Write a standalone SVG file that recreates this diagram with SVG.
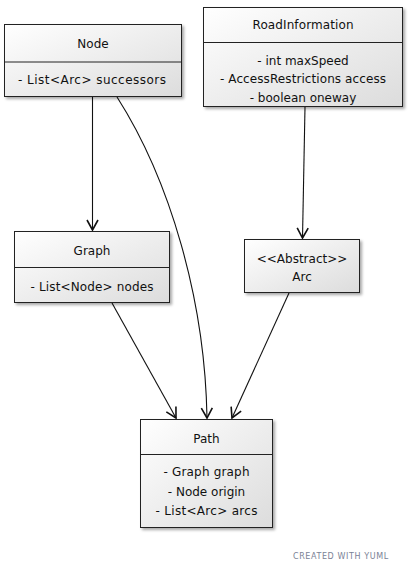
<svg xmlns="http://www.w3.org/2000/svg" width="414" height="573" viewBox="0 0 414 573">
<defs>
<linearGradient id="g" x1="0" y1="0" x2="1" y2="1">
<stop offset="0" stop-color="#ffffff"/>
<stop offset="1" stop-color="#dcdcdc"/>
</linearGradient>
<filter id="sh" x="-10%" y="-10%" width="130%" height="130%">
<feGaussianBlur in="SourceAlpha" stdDeviation="1.5"/>
<feOffset dx="2" dy="2" result="b"/>
<feComponentTransfer><feFuncA type="linear" slope="0.35"/></feComponentTransfer>
<feMerge><feMergeNode/><feMergeNode in="SourceGraphic"/></feMerge>
</filter>
<marker id="ah" viewBox="-12 -7 14 14" refX="0" refY="0" markerWidth="14" markerHeight="14" orient="auto" markerUnits="userSpaceOnUse">
<path d="M-10,-5.5 L0,0 L-10,5.5" fill="none" stroke="#111" stroke-width="1.6"/>
</marker>
</defs>
<style>
.box{fill:url(#g);stroke:#222;stroke-width:1;filter:url(#sh)}
.div{stroke:#222;stroke-width:1}
text{font-family:"DejaVu Sans","Liberation Sans",sans-serif;font-size:12px;fill:#111;text-anchor:middle}
.c{fill:none;stroke:#111;stroke-width:1.1}
.foot{font-size:8px;fill:#7a8296;text-anchor:start;letter-spacing:0.6px}
</style>
<g id="connectors">
<path class="c" d="M92.5,97 L92.5,230" marker-end="url(#ah)"/>
<path class="c" d="M117,97 C170,180 205,300 207,418" marker-end="url(#ah)"/>
<path class="c" d="M305,107 L302.5,238" marker-end="url(#ah)"/>
<path class="c" d="M112,303 L176,418" marker-end="url(#ah)"/>
<path class="c" d="M289,293 L232,418" marker-end="url(#ah)"/>
</g>
<g id="Node">
<rect class="box" x="4.5" y="24.5" width="177" height="72"/>
<line class="div" x1="4.5" y1="62" x2="181.5" y2="62"/>
<text x="93" y="47.5">Node</text>
<text x="92" y="84" textLength="148" lengthAdjust="spacing">- List&lt;Arc&gt; successors</text>
</g>
<g id="RoadInformation">
<rect class="box" x="203.5" y="7.5" width="199" height="99"/>
<line class="div" x1="203.5" y1="42.5" x2="402.5" y2="42.5"/>
<text x="303" y="29" textLength="101" lengthAdjust="spacing">RoadInformation</text>
<text x="303" y="64.5">- int maxSpeed</text>
<text x="303" y="83" textLength="166" lengthAdjust="spacing">- AccessRestrictions access</text>
<text x="303" y="101.5">- boolean oneway</text>
</g>
<g id="Graph">
<rect class="box" x="14.5" y="231.5" width="155" height="71"/>
<line class="div" x1="14.5" y1="267.5" x2="169.5" y2="267.5"/>
<text x="92" y="255">Graph</text>
<text x="92" y="291" textLength="123" lengthAdjust="spacing">- List&lt;Node&gt; nodes</text>
</g>
<g id="Arc">
<rect class="box" x="244.5" y="239.5" width="115" height="53"/>
<text x="302" y="262.5">&lt;&lt;Abstract&gt;&gt;</text>
<text x="302" y="281">Arc</text>
</g>
<g id="Path">
<rect class="box" x="140.5" y="419.5" width="132" height="108"/>
<line class="div" x1="140.5" y1="454.5" x2="272.5" y2="454.5"/>
<text x="206.5" y="442.5">Path</text>
<text x="206.5" y="476" textLength="86" lengthAdjust="spacing">- Graph graph</text>
<text x="206.5" y="495.5">- Node origin</text>
<text x="206.5" y="515" textLength="102" lengthAdjust="spacing">- List&lt;Arc&gt; arcs</text>
</g>
<text class="foot" x="293" y="559">CREATED WITH YUML</text>
</svg>
